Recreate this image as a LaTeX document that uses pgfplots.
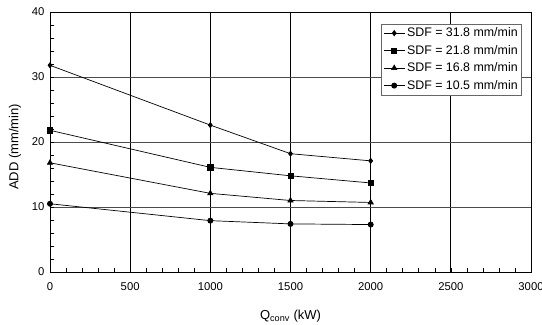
\documentclass[border=0pt]{standalone}
\usepackage{pgfplots}
\pgfplotsset{compat=1.18}
\usepackage{fontspec}
\setmainfont{Liberation Sans}
\begin{document}
\begin{tikzpicture}
\begin{axis}[
  scale only axis,
  width=481pt, height=260pt,
  xmin=0, xmax=3000, ymin=0, ymax=40,
  xtick={0,500,...,3000}, ytick={0,10,...,40},
  minor x tick num=4, minor y tick num=4,
  tick align=inside, xtick pos=bottom, ytick pos=left,
  major tick length=4pt, minor tick length=4pt,
  xmajorgrids, ymajorgrids,
  x grid style={black, line width=0.7pt},
  y grid style={black!70, line width=0.5pt},
  axis line style={black, line width=0.8pt},
  every tick/.style={black, line width=0.6pt},
  /pgf/number format/assume math mode=true,
  /pgf/number format/1000 sep={},
  tick label style={font=\fontsize{11.3}{13}\selectfont},
  xticklabel style={yshift=-7pt},
  yticklabel style={xshift=-2pt},
  label style={font=\fontsize{13}{15}\selectfont},
  xlabel={Q\textsubscript{conv} (kW)},
  ylabel={ADD (mm/min)},
  xlabel style={at={(rel axis cs:0.5,0)}, anchor=center, yshift=-44pt},
  ylabel style={at={(rel axis cs:0,0.5)}, anchor=center, yshift=35pt, xshift=-5pt},
  legend style={at={(rel axis cs:0.981,0.955)}, anchor=north east, draw=black!60, fill=white,
    font=\fontsize{12.4}{14}\selectfont, row sep=3pt, inner sep=2pt},
  legend cell align=left,
  legend image code/.code={\draw[mark repeat=2,mark phase=2,sharp plot] plot coordinates {(0pt,0pt) (10.5pt,0pt) (21pt,0pt)};},
  every axis plot/.append style={black, line width=0.7pt, mark options={solid, fill=black}},
]
\addplot[mark=diamond*, mark size=2.6pt] coordinates {(0,31.8) (1000,22.6) (1500,18.2) (2000,17.1)};
\addlegendentry{SDF = 31.8 mm/min}
\addplot[mark=square*, mark size=2.6pt] coordinates {(0,21.8) (1000,16.1) (1500,14.8) (2000,13.7)};
\addlegendentry{SDF = 21.8 mm/min}
\addplot[mark=triangle*, mark size=3pt] coordinates {(0,16.8) (1000,12.1) (1500,11.0) (2000,10.7)};
\addlegendentry{SDF = 16.8 mm/min}
\addplot[mark=*, mark size=2.6pt] coordinates {(0,10.5) (1000,7.9) (1500,7.4) (2000,7.3)};
\addlegendentry{SDF = 10.5 mm/min}
\end{axis}
\pgfresetboundingbox
\path (current axis.south west) ++(-50pt,-52pt) coordinate (bl);
\path (current axis.north east) ++(11pt,12pt) coordinate (tr);
\path (bl) rectangle (tr);
\end{tikzpicture}
\end{document}
